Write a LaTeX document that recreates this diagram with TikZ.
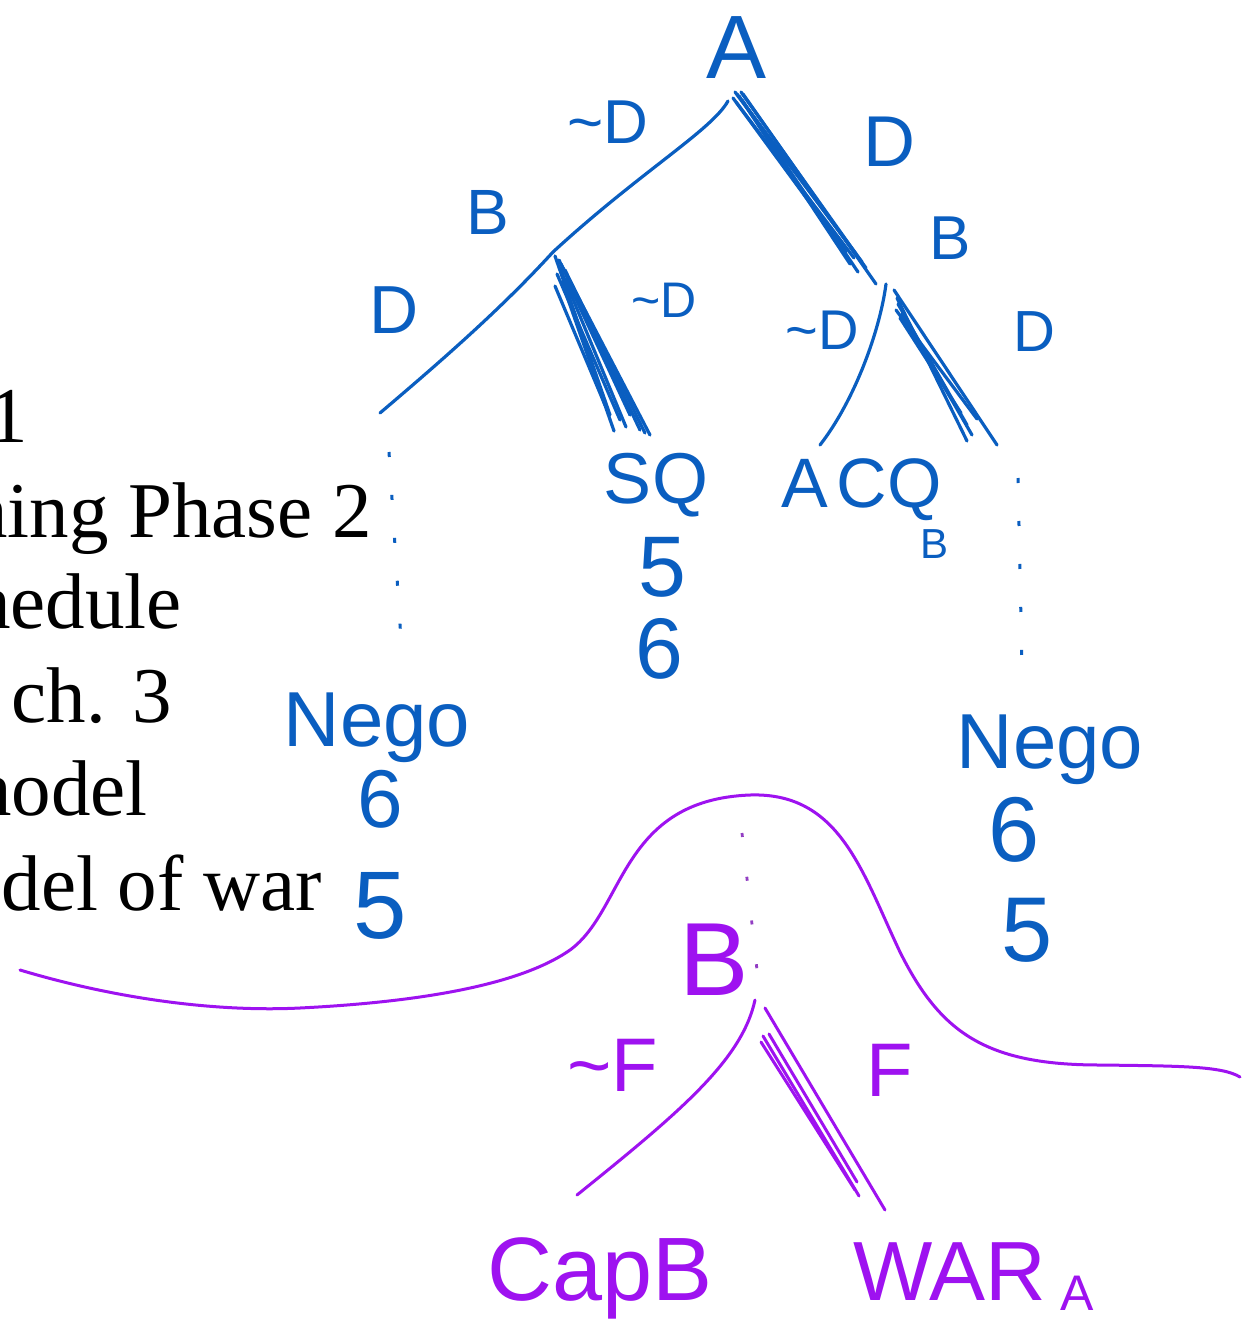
\documentclass[tikz,border=0pt]{standalone}
\usepackage{fontspec}
\setmainfont{Liberation Serif}
\newfontfamily\handfont{Liberation Sans}
\newcommand\handsz[1]{\handfont\fontsize{#1}{#1}\selectfont}
\definecolor{inkblue}{RGB}{10,94,192}
\definecolor{inkpurple}{RGB}{158,18,240}
\tikzset{
  bl/.style={text=inkblue, inner sep=0pt, font=\handsz{#1}},
  pu/.style={text=inkpurple, inner sep=0pt, font=\handsz{#1}},
  bedge/.style={draw=inkblue, line width=3.2pt, line cap=round},
  pedge/.style={draw=inkpurple, line width=3pt, line cap=round},
  bdots/.style={draw=inkblue, line width=3pt, dash pattern=on 5pt off 38pt},
  pdots/.style={draw=inkpurple!60!gray, line width=2.8pt, dash pattern=on 4pt off 40pt},
  slide/.style={anchor=base east, inner sep=0pt, font=\fontsize{79}{94}\selectfont}
}
\begin{document}
\begin{tikzpicture}[x=1pt,y=-1pt]
\useasboundingbox (0,0) rectangle (1246,1341);
\clip (0,0) rectangle (1246,1341);
\fill[white] (0,0) rectangle (1246,1341);

% slide text (cut at left)
\node[slide] (t1) at (28,442) {1};
\node[slide] (t2) at (372,537) {ning Phase 2};
\node[slide] (t3) at (182,628) {hedule};
\node[slide] (t4) at (172,722) {ch. 3};
\node[slide] (t5) at (148,815) {nodel};
\node[slide] (t6) at (322,910) {del of war};

% tree nodes
\node[bl=90] (A) at (737,48) {A};
\coordinate (nA) at (733,96);
\coordinate (nBl) at (553,252);
\coordinate (nBr) at (886,284);
\coordinate (tl) at (380,413);
\coordinate (tsq) at (650,435);
\coordinate (tacq) at (820,445);
\coordinate (tr) at (997,445);

% branch labels
\node[bl=62] (lnd1) at (608,122) {\textasciitilde D};
\node[bl=72] (ld1) at (889,142) {D};
\node[bl=64] (lb1) at (488,212) {B};
\node[bl=62] (lb2) at (950,238) {B};
\node[bl=68] (ld2) at (394,310) {D};
\node[bl=50] (lnd2) at (664,300) {\textasciitilde D};
\node[bl=56] (lnd3) at (822,330) {\textasciitilde D};
\node[bl=58] (ld3) at (1034,332) {D};

% edges from A
\draw[bedge] ([shift={(-5,5)}]nA) .. controls (712,130) and (640,172) .. (nBl);
\draw[bedge] ([shift={(2,-4)}]nA) -- ([shift={(-24,-22)}]nBr);
\draw[bedge] ([shift={(4,-2)}]nA) -- ([shift={(-30,-30)}]nBr);
\draw[bedge] ([shift={(6,0)}]nA) -- ([shift={(-36,-20)}]nBr);
\draw[bedge] ([shift={(0,2)}]nA) -- ([shift={(-40,-32)}]nBr);
\draw[bedge] ([shift={(8,-4)}]nA) -- ([shift={(-20,-16)}]nBr);
\draw[bedge] ([shift={(3,6)}]nA) -- ([shift={(-32,-26)}]nBr);
\draw[bedge] ([shift={(9,4)}]nA) -- ([shift={(-28,-12)}]nBr);
\draw[bedge] ([shift={(10,-2)}]nA) -- ([shift={(-10,0)}]nBr);

% edges from left B
\draw[bedge] (nBl) .. controls (500,310) and (440,362) .. (tl);
\draw[bedge] ([shift={(2,4)}]nBl) -- ([shift={(-40,-20)}]tsq);
\draw[bedge] ([shift={(6,8)}]nBl) -- ([shift={(-10,-5)}]tsq);
\draw[bedge] ([shift={(8,12)}]nBl) -- (tsq);
\draw[bedge] ([shift={(4,22)}]nBl) -- ([shift={(-30,-15)}]tsq);
\draw[bedge] ([shift={(12,18)}]nBl) -- ([shift={(-5,-2)}]tsq);
\draw[bedge] ([shift={(2,34)}]nBl) -- ([shift={(-45,-30)}]tsq);
\draw[bedge] ([shift={(14,28)}]nBl) -- ([shift={(-20,-20)}]tsq);
\draw[bedge] ([shift={(9,30)}]nBl) -- ([shift={(-36,-4)}]tsq);
\draw[bedge] ([shift={(7,16)}]nBl) -- ([shift={(-24,-8)}]tsq);

% edges from right B
\draw[bedge] (nBr) .. controls (880,330) and (855,400) .. (tacq);
\draw[bedge] ([shift={(8,6)}]nBr) -- (tr);
\draw[bedge] ([shift={(12,20)}]nBr) -- ([shift={(-30,-20)}]tr);
\draw[bedge] ([shift={(16,30)}]nBr) -- ([shift={(-25,-10)}]tr);
\draw[bedge] ([shift={(10,26)}]nBr) -- ([shift={(-20,-26)}]tr);
\draw[bedge] ([shift={(14,34)}]nBr) -- ([shift={(-36,-32)}]tr);
\draw[bedge] ([shift={(11,14)}]nBr) -- ([shift={(-30,-4)}]tr);

% dotted continuations
\coordinate (dl1) at (389,452);
\coordinate (dl2) at (401,640);
\coordinate (dr1) at (1018,478);
\coordinate (dr2) at (1022,668);
\draw[bdots] (dl1) -- (dl2);
\draw[bdots] (dr1) -- (dr2);

% terminal labels
\node[bl=72] (sq) at (656,485) {SQ};
\node[bl=86] (sq5) at (662,567) {5};
\node[bl=86] (sq6) at (659,649) {6};
\node[bl=70] (acq) at (862,490) {A\kern0.12em CQ};
\node[bl=42] (acqb) at (934,544) {B};
\node[bl=78] (negol) at (377,728) {Nego};
\node[bl=82] (nl6) at (380,799) {6};
\node[bl=96] (nl5) at (380,906) {5};
\node[bl=78] (negor) at (1050,750) {Nego};
\node[bl=92] (nr6) at (1014,830) {6};
\node[bl=92] (nr5) at (1027,930) {5};

% purple curve
\draw[pedge] (20,970) .. controls (120,1000) and (220,1012) .. (300,1008)
  .. controls (420,1002) and (520,985) .. (570,950)
  .. controls (625,910) and (620,800) .. (750,795)
  .. controls (840,792) and (862,872) .. (900,952)
  .. controls (940,1032) and (985,1065) .. (1100,1065)
  .. controls (1180,1066) and (1222,1066) .. (1240,1077);

% purple subgame
\coordinate (pd1) at (742,833);
\coordinate (pd2) at (757,970);
\draw[pdots] (pd1) -- (pd2);
\node[pu=104] (pB) at (714,960) {B};
\coordinate (nF) at (755,1000);
\coordinate (tcap) at (577,1195);
\coordinate (twar) at (885,1210);
\node[pu=76] (lnf) at (613,1065) {\textasciitilde F};
\node[pu=76] (lf) at (890,1070) {F};
\draw[pedge] (nF) .. controls (742,1060) and (680,1112) .. (tcap);
\draw[pedge] ([shift={(10,8)}]nF) -- (twar);
\draw[pedge] ([shift={(8,36)}]nF) -- ([shift={(-26,-14)}]twar);
\draw[pedge] ([shift={(14,34)}]nF) -- ([shift={(-28,-28)}]twar);
\draw[pedge] ([shift={(6,42)}]nF) -- ([shift={(-30,-20)}]twar);

\node[pu=90, anchor=base] (capb) at (600,1300) {CapB};
\node[pu=84, anchor=base] (war) at (950,1300) {WAR};
\node[pu=50, anchor=base] (wara) at (1077,1310) {A};
\end{tikzpicture}
\end{document}
